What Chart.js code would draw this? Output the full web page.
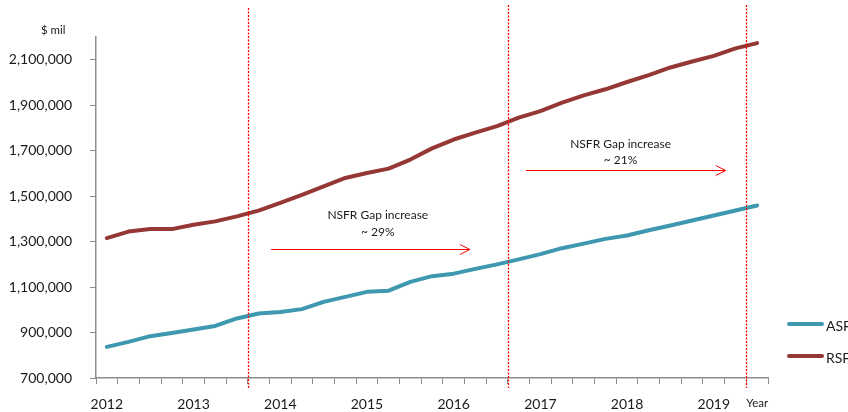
<!DOCTYPE html>
<html>
<head>
<meta charset="utf-8">
<script src="https://cdn.jsdelivr.net/npm/chart.js@4"></script>
<style>
  body { margin: 0; background: #fff; }
  canvas { display: block; }
</style>
</head>
<body>
<canvas id="nsfrChart" width="848" height="412"></canvas>
<script>
const quarters = [
    '2012 Q1', '2012 Q2', '2012 Q3', '2012 Q4',
    '2013 Q1', '2013 Q2', '2013 Q3', '2013 Q4',
    '2014 Q1', '2014 Q2', '2014 Q3', '2014 Q4',
    '2015 Q1', '2015 Q2', '2015 Q3', '2015 Q4',
    '2016 Q1', '2016 Q2', '2016 Q3', '2016 Q4',
    '2017 Q1', '2017 Q2', '2017 Q3', '2017 Q4',
    '2018 Q1', '2018 Q2', '2018 Q3', '2018 Q4',
    '2019 Q1', '2019 Q2', '2019 Q3'
];

const asfValues = [
    837000, 859000, 884000, 898000, 913000, 929000, 962000, 984000,
    990000, 1003000, 1035000, 1057000, 1079000, 1084000, 1123000, 1148000,
    1159000, 1180000, 1200000, 1222000, 1245000, 1271000, 1291000, 1312000,
    1327000, 1350000, 1371000, 1393000, 1415000, 1437000, 1459000
];

const rsfValues = [
    1315000, 1344000, 1355000, 1355000, 1374000, 1389000, 1411000, 1436000,
    1470000, 1506000, 1543000, 1580000, 1602000, 1621000, 1661000, 1710000,
    1749000, 1779000, 1808000, 1845000, 1874000, 1911000, 1943000, 1970000,
    2002000, 2032000, 2066000, 2092000, 2117000, 2150000, 2173000
];

const yTickValues = [700000, 900000, 1100000, 1300000, 1500000, 1700000, 1900000, 2100000];
const xAxisTitle = 'Year';
const yAxisTitle = '$ mil';

// vertical dotted markers sit between quarters
const markerPositions = [6.5, 18.5, 29.5];

// gap annotations: arrow from/to (category index), arrow level (value), text lines
const gapNotes = [
    { from: 7.58, to: 16.75, level: 1268000, textX: 12.5, textLevel: 1415000, lines: ['NSFR Gap increase', '~ 29%'] },
    { from: 19.33, to: 28.55, level: 1617000, textX: 23.7, textLevel: 1730000, lines: ['NSFR Gap increase', '~ 21%'] }
];

const ASF_COLOR = '#3E98AF';
const RSF_COLOR = '#953735';
const FONT = 'Lato, "Open Sans", sans-serif';

const extrasPlugin = {
    id: 'extras',
    afterDraw(chart) {
        const ctx = chart.ctx;
        const x = chart.scales.x;
        const y = chart.scales.y;
        const step = x.getPixelForValue(1) - x.getPixelForValue(0);
        const x0 = x.getPixelForValue(0);

        ctx.save();

        // red dotted year markers
        ctx.strokeStyle = '#FF0000';
        ctx.lineWidth = 1.3;
        ctx.setLineDash([2, 1.5]);
        markerPositions.forEach((pos, i) => {
            const px = Math.round(x0 + pos * step) + 0.5;
            ctx.beginPath();
            ctx.moveTo(px, i === 0 ? 8 : 5);
            ctx.lineTo(px, 388);
            ctx.stroke();
        });
        ctx.setLineDash([]);

        // gap arrows and their text
        gapNotes.forEach(note => {
            const x1 = x0 + note.from * step;
            const x2 = x0 + note.to * step;
            const ay = Math.round(y.getPixelForValue(note.level)) + 0.5;
            ctx.strokeStyle = '#FF0000';
            ctx.lineWidth = 1;
            ctx.beginPath();
            ctx.moveTo(x1, ay);
            ctx.lineTo(x2, ay);
            ctx.moveTo(x2 - 10, ay - 5);
            ctx.lineTo(x2, ay);
            ctx.lineTo(x2 - 10, ay + 5);
            ctx.stroke();

            const tx = x0 + note.textX * step;
            const ty = y.getPixelForValue(note.textLevel);
            ctx.fillStyle = '#1a1a1a';
            ctx.font = '12px ' + FONT;
            ctx.textAlign = 'center';
            ctx.textBaseline = 'middle';
            note.lines.forEach((line, i) => ctx.fillText(line, tx, ty + i * 16.5));
        });

        // "$ mil" above the value axis
        ctx.fillStyle = '#1a1a1a';
        ctx.font = '11.5px ' + FONT;
        ctx.textAlign = 'left';
        ctx.textBaseline = 'middle';
        ctx.fillText(yAxisTitle, 41, 30);

        // legend on the right
        chart.data.datasets.forEach((ds, i) => {
            const ly = 324 + i * 32;
            ctx.strokeStyle = ds.borderColor;
            ctx.lineWidth = 4;
            ctx.lineCap = 'round';
            ctx.beginPath();
            ctx.moveTo(789, ly);
            ctx.lineTo(822, ly);
            ctx.stroke();
            ctx.fillStyle = '#1a1a1a';
            ctx.font = '14px ' + FONT;
            ctx.textAlign = 'left';
            ctx.fillText(ds.label, 826, ly + 2);
        });

        ctx.restore();
    }
};

new Chart(document.getElementById('nsfrChart').getContext('2d'), {
    type: 'line',
    data: {
        labels: quarters,
        datasets: [
            {
                label: 'ASF',
                data: asfValues,
                borderColor: ASF_COLOR,
                backgroundColor: ASF_COLOR,
                borderWidth: 4,
                pointRadius: 0,
                tension: 0,
                borderCapStyle: 'round',
                borderJoinStyle: 'round'
            },
            {
                label: 'RSF',
                data: rsfValues,
                borderColor: RSF_COLOR,
                backgroundColor: RSF_COLOR,
                borderWidth: 4,
                pointRadius: 0,
                tension: 0,
                borderCapStyle: 'round',
                borderJoinStyle: 'round'
            }
        ]
    },
    options: {
        responsive: false,
        animation: false,
        layout: {
            padding: { top: 37, right: 80, left: 0, bottom: 0 }
        },
        plugins: {
            legend: { display: false },
            tooltip: { enabled: false }
        },
        scales: {
            x: {
                type: 'category',
                offset: true,
                grid: {
                    offset: true,
                    drawOnChartArea: false,
                    color: '#8C8C8C',
                    tickLength: 6
                },
                border: { color: '#8C8C8C', width: 1.5 },
                ticks: {
                    autoSkip: false,
                    maxRotation: 0,
                    padding: 12,
                    color: '#1a1a1a',
                    font: ctx => ({ family: FONT, size: ctx.index === quarters.length - 1 ? 11.5 : 14 }),
                    callback: function (value, index) {
                        if (index === quarters.length - 1) return xAxisTitle;
                        const q = quarters[index];
                        return q.endsWith('Q1') ? q.slice(0, 4) : '';
                    }
                },
                afterFit(scale) { scale.height = 34; }
            },
            y: {
                min: 700000,
                max: 2200000,
                grid: {
                    drawOnChartArea: false,
                    color: '#8C8C8C',
                    tickLength: 6
                },
                border: { color: '#8C8C8C', width: 1.5 },
                afterBuildTicks(scale) {
                    scale.ticks = yTickValues.map(v => ({ value: v }));
                },
                ticks: {
                    padding: 18,
                    color: '#1a1a1a',
                    font: { family: FONT, size: 14 },
                    callback: v => v.toLocaleString('en-US')
                },
                afterFit(scale) { scale.width = 96; }
            }
        }
    },
    plugins: [extrasPlugin]
});
</script>
</body>
</html>
